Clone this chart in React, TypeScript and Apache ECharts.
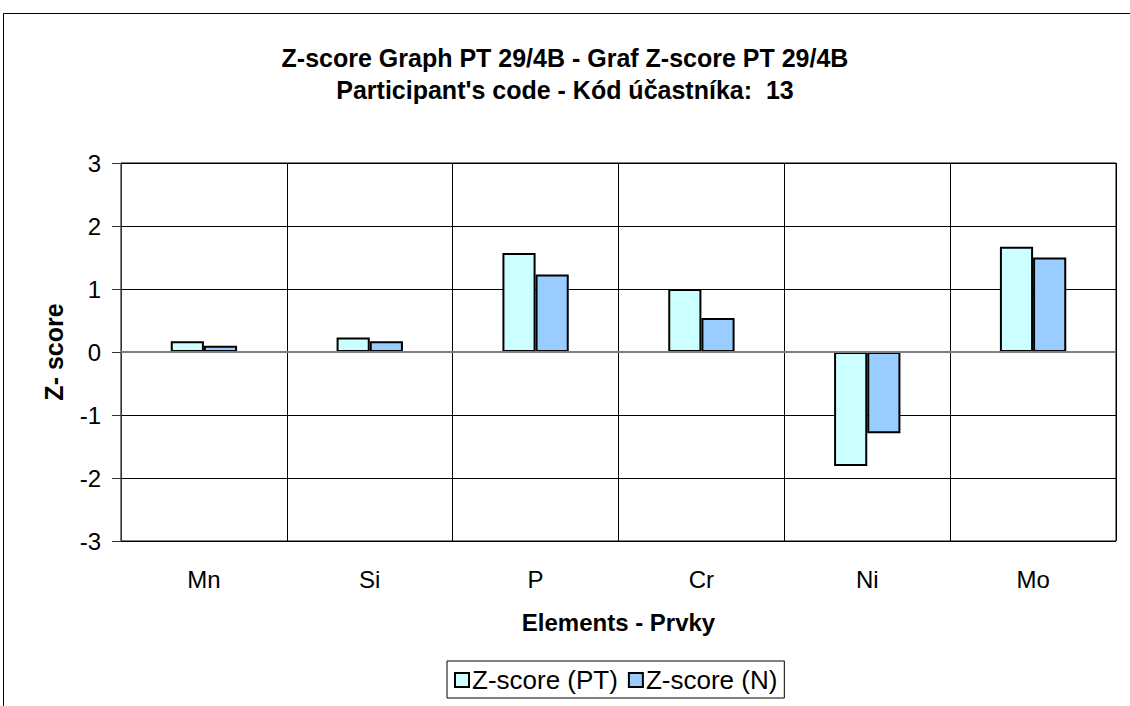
import React, { useEffect, useRef } from "react";
import * as echarts from "echarts";

const categories = ["Mn", "Si", "P", "Cr", "Ni", "Mo"];
const zPT = [0.17, 0.23, 1.57, 1.0, -1.81, 1.67];
const zN = [0.1, 0.17, 1.23, 0.54, -1.29, 1.5];
const seriesNames = ["Z-score (PT)", "Z-score (N)"];
const titleLines = [
  "Z-score Graph PT 29/4B - Graf Z-score PT 29/4B",
  "Participant's code - Kód účastníka:  13",
];

export default function App() {
  const ref = useRef<HTMLDivElement>(null);
  useEffect(() => {
    if (!ref.current) return;
    const chart = echarts.init(ref.current, null, { renderer: "svg" });
    const font = "Arial, 'Liberation Sans', sans-serif";
    chart.setOption({
      animation: false,
      backgroundColor: "#ffffff",
      textStyle: { fontFamily: font },
      title: {
        text: titleLines.join("\n"),
        left: "center",
        top: 37,
        textStyle: {
          fontFamily: font,
          fontSize: 25,
          fontWeight: "bold",
          color: "#000",
          lineHeight: 32,
        },
      },
      graphic: [
        {
          type: "rect",
          shape: { x: 3.5, y: 13.5, width: 1300, height: 900 },
          style: { fill: "none", stroke: "#000", lineWidth: 1 },
          silent: true,
        },
      ],
      grid: {
        left: 121,
        right: 14,
        top: 163,
        bottom: 165,
        show: true,
        borderColor: "#000",
        borderWidth: 1,
        containLabel: false,
      },
      legend: {
        bottom: 8,
        left: 447,
        itemWidth: 14,
        itemHeight: 14,
        itemGap: 10,
        padding: [6, 7, 5, 7],
        borderColor: "#000",
        borderWidth: 1,
        icon: "rect",
        textStyle: { fontFamily: font, fontSize: 26, color: "#000", padding: [0, 0, 0, -2] },
        data: seriesNames,
      },
      xAxis: {
        type: "category",
        data: categories,
        boundaryGap: true,
        name: "Elements - Prvky",
        nameLocation: "middle",
        nameGap: 69,
        nameTextStyle: { fontFamily: font, fontSize: 24, fontWeight: "bold", color: "#000" },
        axisLine: { show: false },
        axisTick: { show: false },
        axisLabel: { fontFamily: font, fontSize: 24, color: "#000", margin: 26 },
        splitLine: { show: true, lineStyle: { color: "#000", width: 1 } },
      },
      yAxis: {
        type: "value",
        min: -3,
        max: 3,
        interval: 1,
        name: "Z- score",
        nameLocation: "middle",
        nameGap: 55,
        nameRotate: 90,
        nameTextStyle: { fontFamily: font, fontSize: 25, fontWeight: "bold", color: "#000" },
        axisLine: { show: true, lineStyle: { color: "#333", width: 1 } },
        axisTick: { show: true, inside: false, length: 9, lineStyle: { color: "#333" } },
        axisLabel: { fontFamily: font, fontSize: 24, color: "#000", margin: 20 },
        splitLine: { show: true, lineStyle: { color: "#000", width: 1 } },
      },
      series: [
        {
          name: seriesNames[0],
          type: "bar",
          data: zPT,
          barGap: "0%",
          barCategoryGap: "60%",
          itemStyle: { color: "#CCFFFF", borderColor: "#000", borderWidth: 2 },
          markLine: {
            silent: true,
            symbol: "none",
            label: { show: false },
            lineStyle: { color: "#808080", width: 2, type: "solid" },
            data: [{ yAxis: 0 }],
          },
        },
        {
          name: seriesNames[1],
          type: "bar",
          data: zN,
          barGap: "0%",
          barCategoryGap: "60%",
          itemStyle: { color: "#99CCFF", borderColor: "#000", borderWidth: 2 },
        },
      ],
    });
    return () => chart.dispose();
  }, []);
  return (
    <div
      ref={ref}
      style={{ position: "absolute", left: 0, top: 0, width: 1130, height: 706 }}
    />
  );
}
